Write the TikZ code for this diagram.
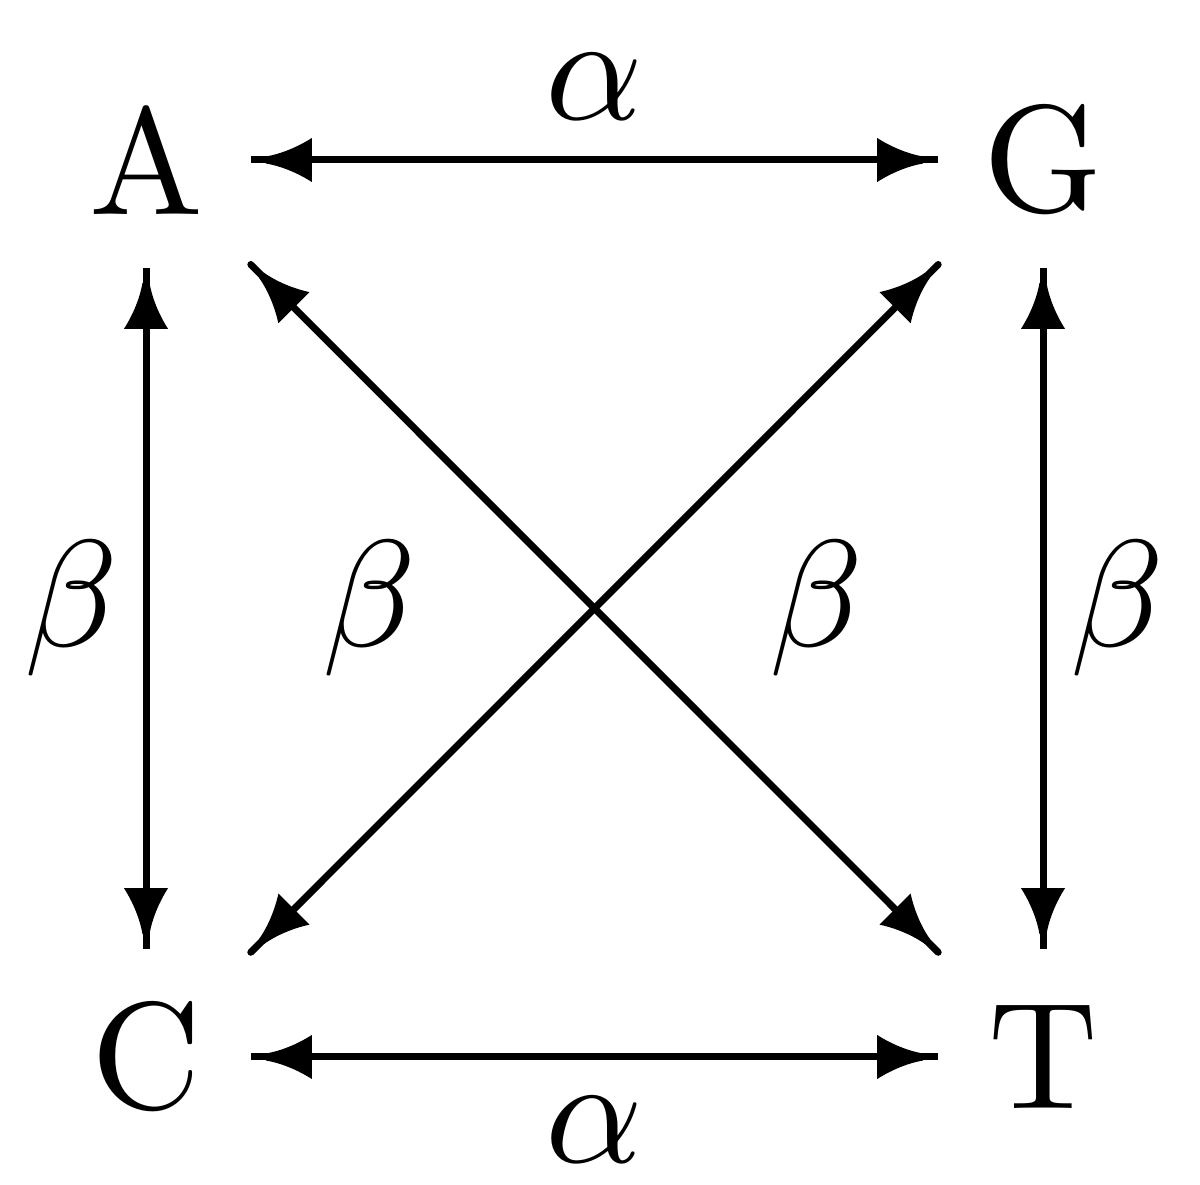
\documentclass[tikz,border=0pt]{standalone}
\usetikzlibrary{decorations.markings}
\newcommand{\bigtxt}[1]{\scalebox{3.8}{#1}}
\tikzset{
  letter/.style={inner sep=0pt, minimum width=52pt, minimum height=53.5pt},
  lbl/.style={inner sep=0pt},
  dbl/.style={line width=1.75pt, postaction={decorate},
    decoration={markings,
      mark=at position 3.75pt with {\fill[xscale=-1] (0,-3.5) .. controls (-15,-6) and (-32,-13) .. (-46,-22) -- (-46,22) .. controls (-32,13) and (-15,6) .. (0,3.5) -- cycle;},
      mark=at position -3.75pt with {\fill (0,-3.5) .. controls (-15,-6) and (-32,-13) .. (-46,-22) -- (-46,22) .. controls (-32,13) and (-15,6) .. (0,3.5) -- cycle;}}},
  diag/.style={dbl, line cap=round}
}
\begin{document}
\begin{tikzpicture}[x=0.25pt, y=-0.25pt, font=\fontsize{10}{12}\selectfont]
\useasboundingbox (0,0) rectangle (1200,1185);
\node[letter] (A) at (146,160) {\bigtxt{A}};
\node[letter] (G) at (1043,160) {\bigtxt{G}};
\node[letter] (C) at (146,1057) {\bigtxt{C}};
\node[letter] (T) at (1043,1057) {\bigtxt{T}};
\draw[dbl] (A) -- (G) node[lbl, midway, yshift=18.25pt] (a1) {\bigtxt{$\alpha$}};
\draw[dbl] (C) -- (T) node[lbl, midway, yshift=-18.25pt] (a2) {\bigtxt{$\alpha$}};
\draw[dbl] (A) -- (C) node[lbl, midway, xshift=-18.75pt] (b1) {\bigtxt{$\beta$}};
\draw[dbl] (G) -- (T) node[lbl, midway, xshift=18.5pt] (b4) {\bigtxt{$\beta$}};
\draw[diag] (A) -- (T) node[lbl, midway, xshift=-56.25pt] (b2) {\bigtxt{$\beta$}};
\draw[diag] (G) -- (C) node[lbl, midway, xshift=55.5pt] (b3) {\bigtxt{$\beta$}};
\end{tikzpicture}
\end{document}
